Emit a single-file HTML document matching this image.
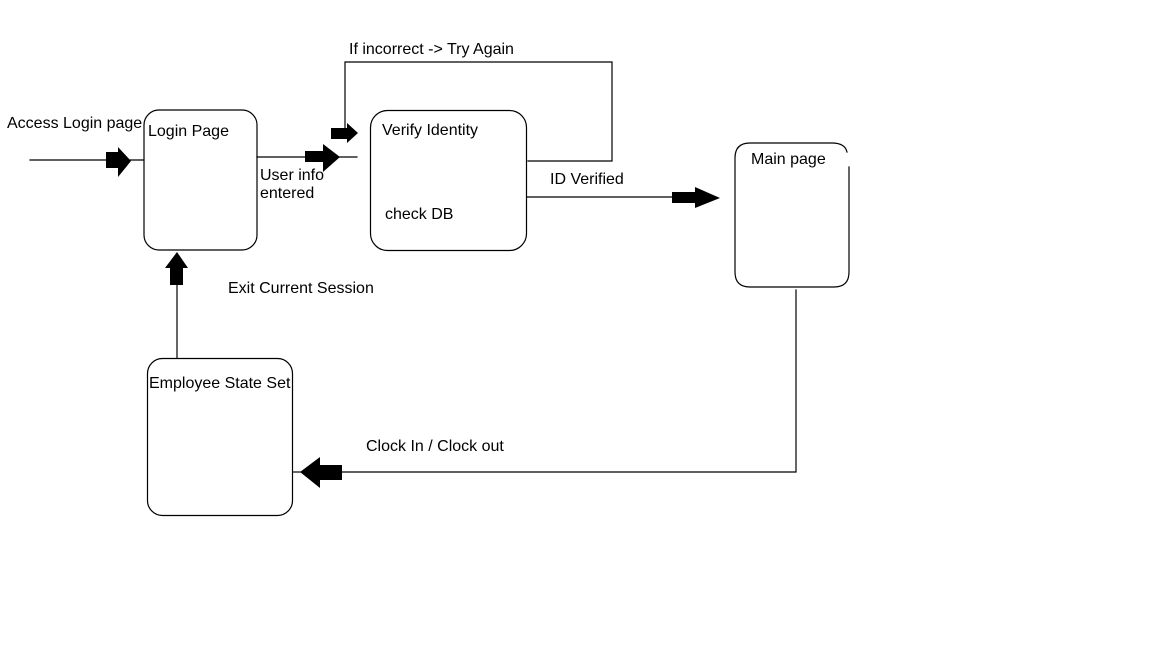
<!DOCTYPE html>
<html><head><meta charset="utf-8"><style>
html,body{margin:0;padding:0;background:#fff;}
svg{display:block;}
text{font-family:"Liberation Sans",Arial,sans-serif;font-size:16px;fill:#000;}
</style></head><body>
<svg width="1152" height="648" viewBox="0 0 1152 648" xmlns="http://www.w3.org/2000/svg">
<g fill="none" stroke="#000" stroke-width="1.2" stroke-linecap="square">
<rect x="144" y="110" width="113" height="140" rx="15"/>
<rect x="370.5" y="110.5" width="156" height="140" rx="17"/>
<path d="M849,167 L849,272 Q849,287 834,287 L750,287 Q735,287 735,272 L735,158 Q735,143 750,143 L832,143 Q845,143 847,152"/>
<rect x="147.5" y="358.5" width="145" height="157" rx="15"/>
<path d="M30,160 L144,160"/>
<path d="M257,157 L357,157"/>
<path d="M528,161 L612,161 L612,62 L345,62 L345,128"/>
<path d="M527,197 L672,197"/>
<path d="M796,290 L796,472 L342,472"/>
<path d="M293,472 L300,472"/>
<path d="M177,358 L177,285"/>
</g>
<g fill="#000">
<polygon points="106,152 118,152 118,147 131,161 118,177 118,168 106,168"/>
<polygon points="305,151 323,151 323,144 340,157 323,172 323,162 305,162"/>
<polygon points="331,128 347,128 347,123 358,133 347,143 347,139 331,139"/>
<polygon points="672,192 695,192 695,187 720,198 695,208 695,203 672,203"/>
<polygon points="342,465 320,465 320,457 300,472 320,488 320,480 342,480"/>
<polygon points="170,285 170,268 165,268 177,252 188,268 183,268 183,285"/>
</g>
<text x="7" y="128">Access Login page</text>
<text x="148" y="136">Login Page</text>
<text x="260" y="180">User info</text>
<text x="260" y="198">entered</text>
<text x="349" y="54">If incorrect -&gt; Try Again</text>
<text x="382" y="135">Verify Identity</text>
<text x="385" y="219">check DB</text>
<text x="550" y="184">ID Verified</text>
<text x="751" y="164">Main page</text>
<text x="228" y="293">Exit Current Session</text>
<text x="149" y="388">Employee State Set</text>
<text x="366" y="451">Clock In / Clock out</text>
</svg>
</body></html>
